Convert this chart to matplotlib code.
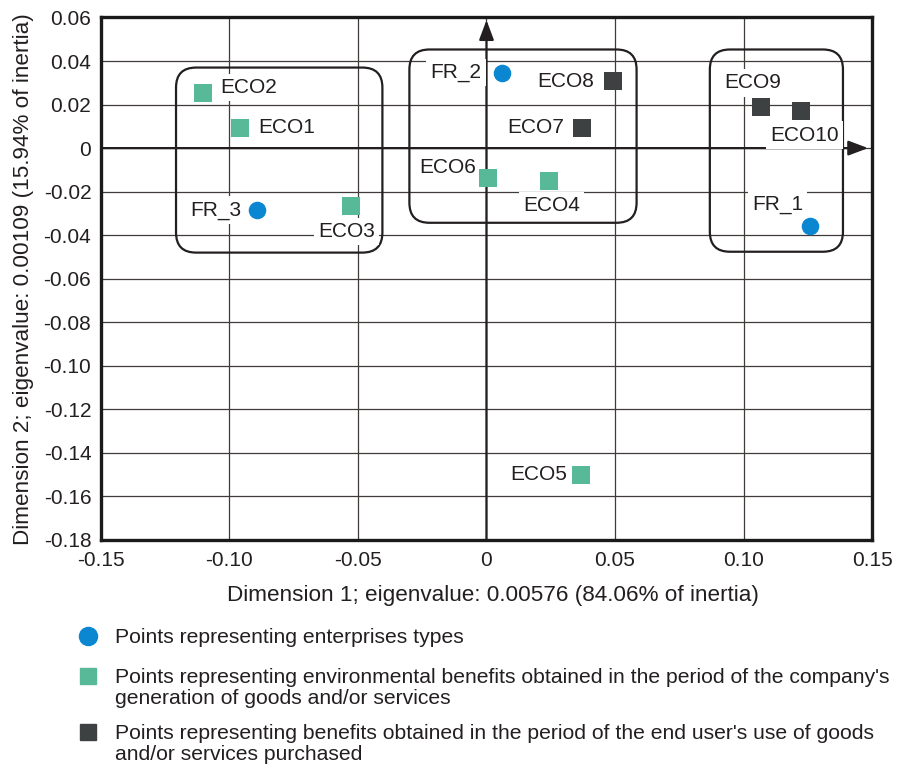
import matplotlib.pyplot as plt
from matplotlib.patches import FancyBboxPatch
from matplotlib.lines import Line2D

plt.rcParams["font.family"] = ["Liberation Sans", "DejaVu Sans"]

# enterprise types
fr_names = ["FR_1", "FR_2", "FR_3"]
fr_x = [0.1258, 0.0062, -0.0892]
fr_y = [-0.0356, 0.0347, -0.0285]

# benefits in the generation period
gen_names = ["ECO1", "ECO2", "ECO3", "ECO4", "ECO5", "ECO6"]
gen_x = [-0.0958, -0.1104, -0.0528, 0.0242, 0.0368, 0.0005]
gen_y = [0.0094, 0.0255, -0.0264, -0.0149, -0.1501, -0.0136]

# benefits in the end user's period
use_names = ["ECO7", "ECO8", "ECO9", "ECO10"]
use_x = [0.0370, 0.0491, 0.1067, 0.1225]
use_y = [0.0094, 0.0306, 0.0189, 0.0170]

# groups (x0, y0, x1, y1)
groups = [(-0.1208, -0.0480, -0.0405, 0.0370),
          (-0.0300, -0.0343, 0.0584, 0.0453),
          (0.0869, -0.0476, 0.1387, 0.0453)]

x_ticks = [-0.15, -0.10, -0.05, 0, 0.05, 0.10, 0.15]
x_ticklabels = ["-0.15", "-0.10", "-0.05", "0", "0.05", "0.10", "0.15"]
y_ticks = [0.06, 0.04, 0.02, 0, -0.02, -0.04, -0.06, -0.08, -0.10, -0.12, -0.14, -0.16, -0.18]
y_ticklabels = ["0.06", "0.04", "0.02", "0", "-0.02", "-0.04", "-0.06", "-0.08", "-0.10",
                "-0.12", "-0.14", "-0.16", "-0.18"]

legend_texts = [["Points representing enterprises types"],
                ["Points representing environmental benefits obtained in the period of the company's",
                 "generation of goods and/or services"],
                ["Points representing benefits obtained in the period of the end user's use of goods",
                 "and/or services purchased"]]

blue = "#0a87d0"
green = "#57b997"
dark = "#3d4142"
ink = "#231f20"
txt_col = "#231f20"

# label offsets in pixels (dx, dy, ha)
offsets = {
    "FR_1": (-58, 21, "left"), "FR_2": (-21, 0, "right"), "FR_3": (-16, 0, "right"),
    "ECO1": (18, 0, "left"), "ECO2": (17, 5, "left"), "ECO3": (-4, -26, "center"),
    "ECO4": (3, -25, "center"), "ECO5": (-14, 0, "right"), "ECO6": (-12, 10, "right"),
    "ECO7": (-17, 0, "right"), "ECO8": (-19, 0, "right"), "ECO9": (-36, 24, "left"),
    "ECO10": (-31, -24, "left"),
}

fig = plt.figure(figsize=(9, 7.67), dpi=100)
ax = fig.add_axes([0.1122, 0.2960, 0.8567, 0.6812])

ax.set_xlim(-0.15, 0.15)
ax.set_ylim(-0.18, 0.06)
ax.set_xticks(x_ticks)
ax.set_xticklabels(x_ticklabels)
ax.set_yticks(y_ticks)
ax.set_yticklabels(y_ticklabels)
ax.tick_params(length=0, labelsize=15, colors=txt_col)
ax.tick_params(axis="x", pad=8)
ax.tick_params(axis="y", pad=7)
ax.grid(True, color="#403b38", linewidth=0.9, zorder=0)
ax.set_axisbelow(True)
for sp in ax.spines.values():
    sp.set_linewidth(2.4)
    sp.set_color("#1a1a1a")

ax.set_xlabel("Dimension 1; eigenvalue: 0.00576 (84.06% of inertia)", fontsize=16.2, color=txt_col)
ax.xaxis.set_label_coords(0.509, -0.087)
ax.set_ylabel("Dimension 2; eigenvalue: 0.00109 (15.94% of inertia)", fontsize=16.2, labelpad=7, color=txt_col)

# arrowed axes through the origin
arrow = dict(arrowstyle="-|>,head_length=1.2,head_width=0.45", color=ink, lw=1.6, shrinkA=0, shrinkB=0)
ax.annotate("", xy=(0, 0.995), xycoords=("data", "axes fraction"),
            xytext=(0, 0), textcoords=("data", "axes fraction"), arrowprops=arrow, zorder=2)
ax.annotate("", xy=(0.995, 0), xycoords=("axes fraction", "data"),
            xytext=(0, 0), textcoords=("axes fraction", "data"), arrowprops=arrow, zorder=2)

for x0, y0, x1, y1 in groups:
    ax.add_patch(FancyBboxPatch((x0, y0), x1 - x0, y1 - y0,
                                boxstyle="round,pad=0,rounding_size=0.0078",
                                mutation_aspect=1.18, fill=False, edgecolor=ink, lw=1.6, zorder=3))

ax.scatter(fr_x, fr_y, s=160, marker="o", color=blue, zorder=5, linewidths=0)
ax.scatter(gen_x, gen_y, s=150, marker="s", color=green, zorder=5, linewidths=0)
ax.scatter(use_x, use_y, s=150, marker="s", color=dark, zorder=5, linewidths=0)

for names, xs, ys in [(fr_names, fr_x, fr_y), (gen_names, gen_x, gen_y), (use_names, use_x, use_y)]:
    for n, x, y in zip(names, xs, ys):
        dx, dy, ha = offsets[n]
        ax.annotate(n, (x, y), xytext=(dx, dy), textcoords="offset pixels",
                    ha=ha, va="center", fontsize=15, color=txt_col, zorder=4,
                    bbox=dict(boxstyle="square,pad=0.2", fc="white", ec="none"))

# legend below the plot
leg_y = [636, 676, 732]
leg_markers = [("o", blue, 13), ("s", green, 12), ("s", dark, 12)]
for yy, (mk, col, ms), lines in zip(leg_y, leg_markers, legend_texts):
    fig.add_artist(Line2D([88 / 900], [1 - yy / 767], marker=mk, color=col, markersize=ms,
                          linestyle="none", transform=fig.transFigure))
    for i, line in enumerate(lines):
        base = yy + 7 + 21.5 * i
        fig.text(115 / 900, 1 - base / 767, line, ha="left", va="baseline",
                 fontsize=15.2, color=txt_col)

fig.savefig("out.png", dpi=100)
